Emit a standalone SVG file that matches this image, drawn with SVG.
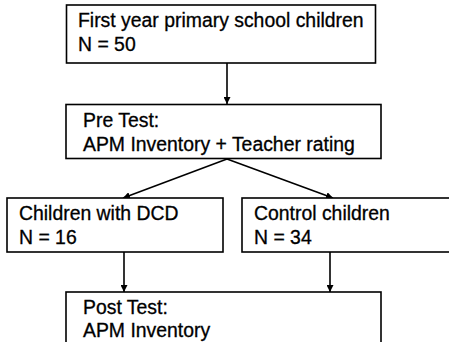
<svg xmlns="http://www.w3.org/2000/svg" width="449" height="342" viewBox="0 0 449 342">
<style>
.box{fill:#fff;stroke:#000;stroke-width:1.6}
.t{font-family:"Liberation Sans",Arial,sans-serif;font-size:19.4px;fill:#000;stroke:#000;stroke-width:0.3}
.c{stroke:#000;stroke-width:1.6;fill:none}
</style>
<defs>
<marker id="ah" viewBox="0 0 10 10" refX="10" refY="5" markerWidth="7" markerHeight="7" markerUnits="userSpaceOnUse" orient="auto">
<path d="M0,0 L10,5 L0,10 z" fill="#000"/>
</marker>
</defs>
<rect width="449" height="342" fill="#fff"/>
<g id="connectors">
<line class="c" x1="227" y1="63" x2="227" y2="104" marker-end="url(#ah)"/>
<line class="c" x1="227" y1="159" x2="123" y2="198" marker-end="url(#ah)"/>
<line class="c" x1="227" y1="159" x2="333" y2="198" marker-end="url(#ah)"/>
<line class="c" x1="124" y1="252" x2="124" y2="292" marker-end="url(#ah)"/>
<line class="c" x1="330" y1="252" x2="330" y2="292" marker-end="url(#ah)"/>
</g>
<g id="n1">
<rect class="box" x="66.5" y="5" width="309" height="58"/>
<text class="t" x="78" y="27">First year primary school children</text>
<text class="t" x="78" y="51">N = 50</text>
</g>
<g id="n2">
<rect class="box" x="66" y="104.5" width="315" height="54"/>
<text class="t" x="83" y="127">Pre Test:</text>
<text class="t" x="83" y="151">APM Inventory + Teacher rating</text>
</g>
<g id="n3">
<rect class="box" x="7" y="198" width="216" height="54"/>
<text class="t" x="19" y="220">Children with DCD</text>
<text class="t" x="19" y="244">N = 16</text>
</g>
<g id="n4">
<rect class="box" x="242" y="198" width="215" height="54"/>
<text class="t" x="254" y="220">Control children</text>
<text class="t" x="254" y="244">N = 34</text>
</g>
<g id="n5">
<rect class="box" x="66" y="292" width="315" height="60"/>
<text class="t" x="83" y="314">Post Test:</text>
<text class="t" x="83" y="337">APM Inventory</text>
</g>
</svg>
